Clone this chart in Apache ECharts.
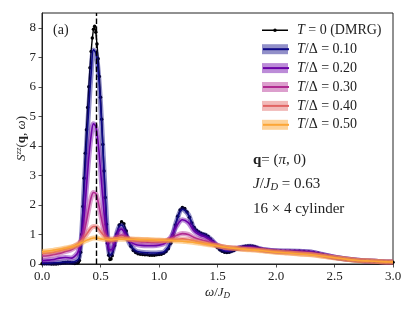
<!DOCTYPE html>
<html><head><meta charset="utf-8">
<script src="https://cdn.jsdelivr.net/npm/echarts@6/dist/echarts.min.js"></script>
<style>html,body{margin:0;padding:0;background:#fff}#c{width:415px;height:311px}</style>
</head><body><div id="c"></div>
<script>
// ---- data ----
const dmrgOmega = [0.00,0.02,0.04,0.06,0.08,0.10,0.12,0.14,0.16,0.18,0.20,0.22,0.24,0.26,0.28,0.30,
 0.31,0.32,0.33,0.34,0.35,0.36,0.37,0.38,0.39,0.40,0.41,0.42,0.43,0.44,0.45,0.46,0.47,0.48,0.49,0.50,
 0.51,0.52,0.53,0.54,0.55,0.56,0.57,0.58,0.59,0.60,
 0.62,0.64,0.66,0.68,0.70,0.72,0.74,0.76,0.78,0.80,0.82,0.84,0.86,0.88,0.90,0.92,0.94,0.96,0.98,1.00,
 1.02,1.04,1.06,1.08,1.10,1.12,1.14,1.16,1.18,1.20,1.22,1.24,1.26,1.28,1.30,1.32,1.34,1.36,1.38,1.40,
 1.42,1.44,1.46,1.48,1.50,1.52,1.54,1.56,1.58,1.60,1.62,1.64,1.66,1.68,1.70,1.72,1.74,1.76,1.78,1.80,
 1.82,1.84,1.86,1.88,1.90,1.92,1.94,1.96,1.98,2.00,
 2.04,2.08,2.12,2.16,2.20,2.24,2.28,2.32,2.36,2.40,2.44,2.48,2.52,2.56,2.60,2.64,2.68,2.72,2.76,2.80,
 2.84,2.88,2.92,2.96,3.00];
const dmrgValue = [0.01,0.01,0.01,0.01,0.00,0.00,0.00,0.01,0.02,0.04,0.05,0.06,0.05,0.03,0.02,0.03,
 0.05,0.12,0.40,1.00,1.95,2.90,3.75,4.55,5.30,6.00,6.65,7.20,7.65,7.95,8.05,7.85,7.45,6.95,6.35,5.65,
 4.90,4.05,3.15,2.25,1.35,0.70,0.30,0.15,0.17,0.28,
 0.62,1.02,1.32,1.43,1.36,1.12,0.82,0.60,0.46,0.39,0.35,0.33,0.32,0.31,0.31,0.30,0.30,0.30,0.31,0.32,
 0.33,0.36,0.42,0.52,0.70,0.98,1.32,1.62,1.83,1.91,1.88,1.76,1.58,1.39,1.24,1.14,1.08,1.04,1.01,0.98,
 0.93,0.85,0.75,0.65,0.56,0.48,0.43,0.40,0.39,0.40,0.43,0.46,0.50,0.53,0.56,0.58,0.60,0.61,0.61,0.60,
 0.58,0.55,0.52,0.50,0.48,0.47,0.46,0.45,0.45,0.44,
 0.44,0.43,0.43,0.43,0.43,0.42,0.41,0.39,0.36,0.32,0.28,0.24,0.21,0.18,0.16,0.14,0.13,0.12,0.11,0.10,
 0.09,0.08,0.07,0.07,0.06];

const omegaT = [0,0.05,0.1,0.15,0.2,0.25,0.3,0.32,0.34,0.36,0.38,0.4,0.42,0.44,0.46,0.48,0.5,0.52,0.54,0.56,0.58,0.6,
 0.62,0.64,0.66,0.68,0.7,0.72,0.75,0.8,0.85,0.9,0.95,1.0,1.05,1.1,1.15,1.2,1.25,1.3,1.35,1.4,1.45,1.5,1.55,1.6,1.65,1.7,
 1.78,1.85,1.9,2.0,2.1,2.2,2.3,2.4,2.5,2.6,2.7,2.8,2.9,3.0];
const sT010 = [0.03,0.03,0.04,0.05,0.07,0.06,0.12,0.25,1.10,2.60,4.00,5.30,6.45,7.25,7.15,6.55,5.45,3.95,2.40,1.00,0.30,0.38,
 0.70,1.05,1.27,1.32,1.22,1.00,0.68,0.45,0.40,0.38,0.37,0.38,0.43,0.75,1.45,1.85,1.68,1.20,1.04,0.97,0.82,0.58,0.45,0.43,0.50,0.56,
 0.60,0.53,0.48,0.45,0.44,0.43,0.41,0.32,0.23,0.17,0.13,0.10,0.08,0.07];
const sT020 = [0.12,0.13,0.15,0.20,0.22,0.20,0.35,0.55,0.90,1.60,2.60,3.60,4.35,4.75,4.65,4.10,3.20,2.20,1.35,0.75,0.48,0.50,
 0.72,0.98,1.14,1.18,1.10,0.95,0.78,0.66,0.63,0.62,0.62,0.64,0.70,0.90,1.28,1.50,1.40,1.12,0.98,0.90,0.78,0.63,0.54,0.50,0.52,0.55,
 0.57,0.52,0.48,0.44,0.43,0.42,0.40,0.31,0.23,0.17,0.13,0.10,0.08,0.07];
const sT030 = [0.27,0.28,0.32,0.36,0.42,0.48,0.60,0.68,0.82,1.08,1.45,1.88,2.25,2.42,2.38,2.10,1.70,1.30,1.00,0.82,0.75,0.76,
 0.82,0.90,0.96,0.98,0.96,0.90,0.83,0.77,0.75,0.74,0.73,0.74,0.76,0.85,0.97,1.03,1.00,0.90,0.83,0.78,0.70,0.63,0.58,0.55,0.54,0.53,
 0.52,0.50,0.47,0.43,0.41,0.39,0.36,0.30,0.23,0.17,0.13,0.10,0.08,0.07];
const sT040 = [0.36,0.37,0.40,0.45,0.50,0.56,0.66,0.72,0.80,0.90,1.00,1.12,1.22,1.27,1.27,1.20,1.10,1.00,0.92,0.87,0.85,0.85,
 0.87,0.89,0.90,0.90,0.89,0.87,0.85,0.83,0.82,0.81,0.80,0.80,0.80,0.82,0.84,0.85,0.83,0.79,0.74,0.70,0.66,0.62,0.58,0.55,0.53,0.51,
 0.49,0.47,0.45,0.41,0.38,0.35,0.32,0.27,0.21,0.16,0.12,0.10,0.08,0.07];
const sT050 = [0.42,0.44,0.47,0.50,0.54,0.58,0.64,0.68,0.72,0.76,0.80,0.83,0.86,0.88,0.88,0.87,0.85,0.84,0.83,0.82,0.82,0.82,
 0.83,0.83,0.84,0.84,0.84,0.84,0.84,0.84,0.83,0.83,0.82,0.81,0.80,0.79,0.78,0.77,0.75,0.73,0.70,0.67,0.64,0.61,0.58,0.55,0.53,0.51,
 0.48,0.46,0.44,0.40,0.37,0.34,0.31,0.26,0.21,0.16,0.12,0.10,0.08,0.07];

const tempLabels = ['0.10','0.20','0.30','0.40','0.50'];
const tempSeries = [sT010, sT020, sT030, sT040, sT050];
const peakOmega = 0.462;
const xTickStep = 0.5, yTickStep = 1;

// ---- styling ----
const colors = ['#0d0887','#6a00a8','#b12a90','#e16462','#fca636'];
const bandColors = ['rgba(13,8,135,0.45)','rgba(106,0,168,0.45)','rgba(177,42,144,0.45)','rgba(225,100,98,0.45)','rgba(252,166,54,0.5)'];
const FF = "'Liberation Serif','DejaVu Serif',serif";
const TXT = '#222';
const dmrgIcon = 'path://M0,0L0.01,0L0,0.01Z M0,4.3L26,4.3L26,5.7L0,5.7Z M11.2,5A1.8,1.8,0,1,1,14.8,5A1.8,1.8,0,1,1,11.2,5Z M26,10L25.99,10L26,9.99Z';

const zip = (xs, ys) => xs.map((x, i) => [x, ys[i]]);

const series = [{
  name: 'DMRG', type: 'line', data: zip(dmrgOmega, dmrgValue),
  smooth: false, symbol: 'circle', symbolSize: 3.5, showSymbol: true,
  itemStyle: {color: '#000'}, lineStyle: {color: '#000', width: 1.4},
  z: 2, silent: true, animation: false,
  markLine: {silent: true, symbol: 'none', label: {show: false},
    lineStyle: {color: '#000', width: 1.4, type: [5.5, 2.5]},
    data: [{xAxis: peakOmega}], z: 10, animation: false}
}];
tempSeries.forEach((vals, k) => {
  series.push({
    name: 'b' + k, type: 'line', data: zip(omegaT, vals), smooth: 0.35, symbol: 'none',
    itemStyle: {color: bandColors[k]}, lineStyle: {color: bandColors[k], width: 5},
    z: 3 + k, silent: true, animation: false
  });
  series.push({
    name: 'l' + k, type: 'line', data: zip(omegaT, vals), smooth: 0.35, symbol: 'none',
    itemStyle: {color: colors[k]}, lineStyle: {color: colors[k], width: 1.6},
    z: 3 + k, silent: true, animation: false
  });
});

const legendNames = {'DMRG': '{i|T} = 0 (DMRG)'};
tempLabels.forEach((t, k) => { legendNames['b' + k] = '{i|T}/Δ = ' + t; });

const LFS = 14;
const richLegend = {
  i: {fontFamily: FF, fontStyle: 'italic', fontSize: LFS, lineHeight: 14, color: TXT}
};
const richBase = {
  i: {fontFamily: FF, fontStyle: 'italic', fontSize: 13, color: TXT},
  b: {fontFamily: FF, fontWeight: 'bold', fontSize: 13, color: TXT},
  sup: {fontFamily: FF, fontStyle: 'italic', fontSize: 9, color: TXT, verticalAlign: 'top', padding: [0, 0, 6, 0]},
  sub: {fontFamily: FF, fontStyle: 'italic', fontSize: 9, color: TXT, padding: [6, 0, 0, 0]}
};

const legendCommon = {
  orient: 'vertical', left: 262, top: 23.3, padding: 0,
  itemWidth: 26, itemHeight: 10, itemGap: 4.9, selectedMode: false,
  textStyle: {fontFamily: FF, fontSize: LFS, lineHeight: 14, color: TXT, padding: [0, 0, 0, 4], rich: richLegend}
};

const option = {
  backgroundColor: '#fff',
  animation: false,
  grid: {left: 42, right: 22, top: 13, bottom: 47, show: true, borderColor: '#222', borderWidth: 1,
         containLabel: false, outerBoundsMode: 'none'},
  xAxis: {
    type: 'value', min: 0, max: 3, interval: xTickStep,
    name: '{i|ω}/{i|J}{sub|D}', nameLocation: 'middle', nameGap: 21, nameMoveOverlap: false,
    nameTextStyle: {fontFamily: FF, fontSize: 13, color: TXT, rich: richBase},
    axisLine: {show: true, lineStyle: {color: '#222', width: 1}},
    axisTick: {show: true, inside: false, length: 3.5, lineStyle: {color: '#222', width: 0.8}},
    axisLabel: {fontFamily: FF, fontSize: 13, color: TXT, margin: 6, formatter: v => v.toFixed(1)},
    splitLine: {show: false}
  },
  yAxis: {
    type: 'value', min: 0, max: 8.5, interval: yTickStep,
    name: '{i|S}{sup|zz}({b|q}, {i|ω})', nameLocation: 'middle', nameGap: 13, nameRotate: 90, nameMoveOverlap: false,
    nameTextStyle: {fontFamily: FF, fontSize: 13, color: TXT, rich: richBase},
    axisLine: {show: true, lineStyle: {color: '#222', width: 1}},
    axisTick: {show: true, inside: false, length: 3.5, lineStyle: {color: '#222', width: 0.8}},
    axisLabel: {fontFamily: FF, fontSize: 13, color: TXT, margin: 6, showMaxLabel: false,
      formatter: v => (Number.isInteger(v) ? String(v) : '')},
    splitLine: {show: false}
  },
  legend: [
    Object.assign({}, legendCommon, {
      data: [{name: 'DMRG', icon: dmrgIcon, itemStyle: {color: '#000', borderWidth: 0}}]
        .concat(tempLabels.map((t, k) => ({name: 'b' + k, icon: 'rect'}))),
      formatter: n => legendNames[n]
    }),
    Object.assign({}, legendCommon, {
      data: [{name: 'DMRG', itemStyle: {opacity: 0}, lineStyle: {opacity: 0}}]
        .concat(tempLabels.map((t, k) => ({name: 'l' + k, itemStyle: {opacity: 0}}))),
      formatter: n => ' '
    })
  ],
  graphic: [
    {type: 'text', left: 53, top: 23, style: {text: '(a)', fontFamily: FF, fontSize: 14, fill: TXT}},
    {type: 'text', x: 253, y: 160, style: {text: '{b|q}= ({i|π}, 0)', fontFamily: FF, fontSize: 15, fill: TXT, verticalAlign: 'middle',
      rich: {b: {fontFamily: FF, fontWeight: 'bold', fontSize: 15, fill: TXT}, i: {fontFamily: FF, fontStyle: 'italic', fontSize: 15, fill: TXT}}}},
    {type: 'text', x: 253, y: 184, style: {text: '{i|J}/{i|J}{sub|D} = 0.63', fontFamily: FF, fontSize: 15, fill: TXT, verticalAlign: 'middle',
      rich: {i: {fontFamily: FF, fontStyle: 'italic', fontSize: 15, fill: TXT}, sub: {fontFamily: FF, fontStyle: 'italic', fontSize: 10.5, fill: TXT, padding: [7, 0, 0, 0]}}}},
    {type: 'text', x: 253, y: 209, style: {text: '16 × 4 cylinder', fontFamily: FF, fontSize: 15, fill: TXT, verticalAlign: 'middle'}}
  ],
  series: series
};

const chart = echarts.init(document.getElementById('c'), null, {renderer: 'canvas'});
chart.setOption(option);
</script>
</body></html>
